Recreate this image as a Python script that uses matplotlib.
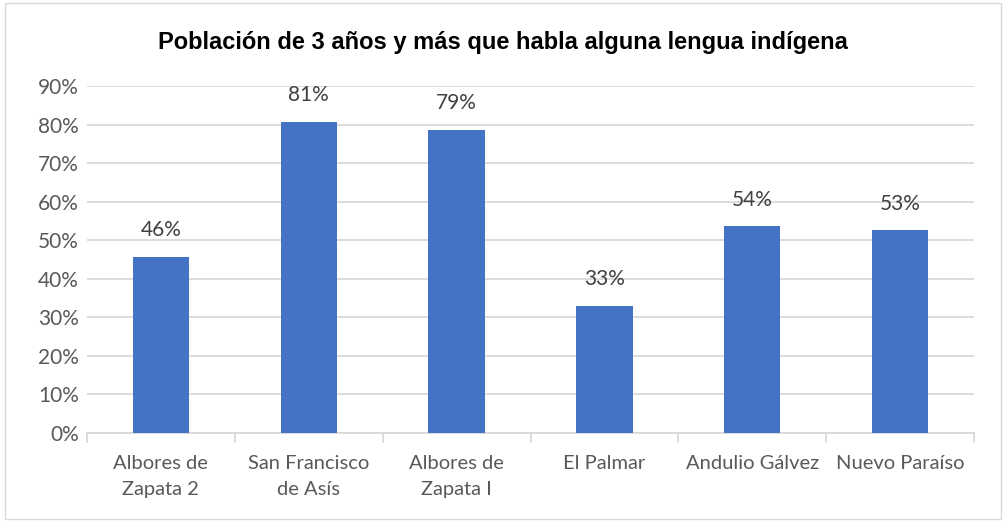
import matplotlib
matplotlib.use("Agg")
import matplotlib.pyplot as plt
from matplotlib.patches import Rectangle
from matplotlib.ticker import PercentFormatter, FixedLocator

# --- Data ---
categories = ["Albores de\nZapata 2", "San Francisco\nde Asís", "Albores de\nZapata I",
              "El Palmar", "Andulio Gálvez", "Nuevo Paraíso"]
values = [0.457, 0.807, 0.786, 0.329, 0.536, 0.526]
y_ticks = [0.0, 0.1, 0.2, 0.3, 0.4, 0.5, 0.6, 0.7, 0.8, 0.9]

BAR_COLOR = "#4472C4"
GRID_COLOR = "#D9D9D9"
TEXT_COLOR = "#595959"
LABEL_COLOR = "#404040"
FONT = ["Lato", "DejaVu Sans"]

fig = plt.figure(figsize=(10.05, 5.23), dpi=100)
# chart border
fig.patches.append(Rectangle((0.005, 0.008), 0.991, 0.986, transform=fig.transFigure,
                             fill=False, edgecolor="#D9D9D9", linewidth=1))

ax = fig.add_axes([87 / 1005, 1 - 433 / 523, (974 - 87) / 1005, (433 - 86) / 523])
x = range(len(categories))
bars = ax.bar(x, values, width=0.38, color=BAR_COLOR, zorder=3)

ax.set_xlim(-0.5, len(categories) - 0.5)
ax.set_ylim(0, 0.9)
ax.yaxis.set_major_locator(FixedLocator(y_ticks))
ax.yaxis.set_major_formatter(PercentFormatter(1.0, decimals=0))
ax.grid(axis="y", color=GRID_COLOR, linewidth=1.3, zorder=0)

for s in ["top", "right", "left"]:
    ax.spines[s].set_visible(False)
ax.spines["bottom"].set_color(GRID_COLOR)
ax.spines["bottom"].set_linewidth(1.3)

ax.tick_params(axis="y", length=0, pad=6, labelsize=15, labelcolor=TEXT_COLOR)
ax.set_xticks(list(x))
ax.set_xticklabels(categories, fontsize=14.5, color=TEXT_COLOR, linespacing=1.6)
ax.tick_params(axis="x", length=0, pad=16)
for lab in ax.get_xticklabels() + ax.get_yticklabels():
    lab.set_family(FONT)

# category boundary ticks
ax.set_xticks([i - 0.5 for i in range(len(categories) + 1)], minor=True)
ax.tick_params(axis="x", which="minor", length=7, width=1.3, color=GRID_COLOR, direction="out")

for i, v in enumerate(values):
    ax.annotate(f"{v:.0%}", (i, v), xytext=(0, 12), textcoords="offset points",
                ha="center", va="bottom", fontsize=15, color=LABEL_COLOR, family=FONT)

fig.text(0.5, 1 - 42 / 523, "Población de 3 años y más que habla alguna lengua indígena",
         ha="center", va="center", fontsize=17, fontweight="bold",
         family=["Liberation Sans", "DejaVu Sans"], color="black")

fig.savefig("out.png", dpi=100)
